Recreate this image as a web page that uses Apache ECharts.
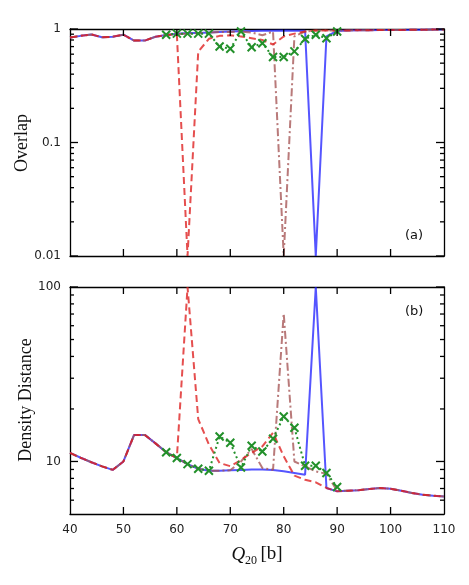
<!DOCTYPE html>
<html>
<head>
<meta charset="utf-8">
<script src="https://cdn.jsdelivr.net/npm/echarts@6/dist/echarts.min.js"></script>
<style>
html, body { margin: 0; padding: 0; background: #fff; }
#main { width: 469px; height: 585px; }
</style>
</head>
<body>
<div id="main"></div>
<script type="text/javascript">
// Q20 grid (b)
var q = [40, 42, 44, 46, 48, 50, 52, 54, 56, 58, 60, 62, 64, 66, 68, 70, 72, 74,
         76, 78, 80, 82, 84, 86, 88, 90, 92, 94, 96, 98, 100, 102, 104, 106, 108, 110];
var qGreen = [58, 60, 62, 64, 66, 68, 70, 72, 74, 76, 78, 80, 82, 84, 86, 88, 90];

// (a) overlap
var ovBlue  = [0.84, 0.87, 0.895, 0.845, 0.855, 0.89, 0.79, 0.79, 0.855, 0.885, 0.91, 0.92, 0.92, 0.93, 0.94, 0.95, 0.955, 0.96,
               0.965, 0.965, 0.97, 0.965, 0.965, 0.01, 0.86, 0.96, 0.97, 0.975, 0.975, 0.98, 0.98, 0.98, 0.985, 0.985, 0.99, 0.99];
var ovRed   = [0.84, 0.87, 0.895, 0.845, 0.855, 0.89, 0.79, 0.79, 0.855, 0.885, 0.9, 0.01, 0.63, 0.82, 0.87, 0.88, 0.86, 0.83,
               0.8, 0.73, 0.86, 0.91, 0.95, 0.97, 0.97, 0.97, 0.97, 0.975, 0.975, 0.98, 0.98, 0.98, 0.985, 0.985, 0.99, 0.99];
var ovBrown = [0.84, 0.87, 0.895, 0.845, 0.855, 0.89, 0.79, 0.79, 0.855, 0.885, 0.9, 0.91, 0.92, 0.93, 0.94, 0.94, 0.95, 0.93,
               0.88, 0.95, 0.01, 0.86, 0.95, 0.97, 0.97, 0.97, 0.97, 0.975, 0.975, 0.98, 0.98, 0.98, 0.985, 0.985, 0.99, 0.99];
var ovGreen = [0.89, 0.91, 0.91, 0.91, 0.91, 0.7, 0.67, 0.95, 0.69, 0.75, 0.567, 0.567, 0.635, 0.816, 0.89, 0.83, 0.95];

// (b) density distance
var ddBlue  = [11.2, 10.5, 9.9, 9.37, 8.95, 10.0, 14.2, 14.2, 12.7, 11.3, 10.46, 9.66, 9.08, 8.85, 8.85, 8.9, 8.95, 9.0,
               9.0, 8.95, 8.8, 8.6, 8.4, 100, 7.05, 6.74, 6.8, 6.85, 6.95, 7.05, 6.98, 6.8, 6.6, 6.45, 6.37, 6.3];
var ddRed   = [11.2, 10.5, 9.9, 9.37, 8.95, 10.0, 14.2, 14.2, 12.7, 11.3, 10.5, 100, 17.5, 12.5, 9.8, 9.4, 10.2, 11.2,
               12.2, 14.6, 10.7, 8.3, 7.86, 7.6, 7.05, 6.74, 6.8, 6.85, 6.95, 7.05, 6.98, 6.8, 6.6, 6.45, 6.37, 6.3];
var ddBrown = [11.2, 10.5, 9.9, 9.37, 8.95, 10.0, 14.2, 14.2, 12.7, 11.3, 10.46, 9.66, 9.08, 8.85, 8.85, 8.9, 10.0, 11.8,
               9.17, 8.96, 70.5, 10.0, 9.37, 8.77, 8.5, 6.8, 6.8, 6.85, 6.95, 7.05, 6.98, 6.8, 6.6, 6.45, 6.37, 6.3];
var ddGreen = [11.3, 10.46, 9.66, 9.08, 8.85, 13.9, 12.8, 9.24, 12.3, 11.4, 13.5, 18.1, 15.6, 9.45, 9.45, 8.59, 7.14];

// tick values
var xTickVals = [50, 60, 70, 80, 90, 100];
var ovMajor = [0.01, 0.1, 1];
var ovMinor = [0.02, 0.03, 0.04, 0.05, 0.06, 0.07, 0.08, 0.09, 0.2, 0.3, 0.4, 0.5, 0.6, 0.7, 0.8, 0.9];
var ddMajor = [10, 100];
var ddMinor = [6, 7, 8, 9, 20, 30, 40, 50, 60, 70, 80, 90];

function pairs(xs, ys) {
	var out = [];
	for (var i = 0; i < xs.length; i++) out.push([xs[i], ys[i]]);
	return out;
}
function atX(x, ys) { return ys.map(function (y) { return [x, y]; }); }
function atY(xs, y) { return xs.map(function (x) { return [x, y]; }); }

var axisColor = '#000';
var tickFont = { color: '#222', fontSize: 12, fontFamily: 'DejaVu Sans' };

// frame-only x axis
function xFrame(grid, pos) {
	return {
		type: 'value', gridIndex: grid, position: pos, min: 40, max: 110, interval: 10,
		axisLine: { show: true, onZero: false, lineStyle: { color: axisColor, width: 1.3 } },
		axisTick: { show: false },
		axisLabel: { show: false, fontSize: 9 },
		splitLine: { show: false }
	};
}

function xLabels(grid) {
	return {
		type: 'value', gridIndex: grid, position: 'bottom', min: 40, max: 110, interval: 10,
		axisLine: { show: true, onZero: false, lineStyle: { color: axisColor, width: 1.3 } },
		axisTick: { show: false },
		axisLabel: { show: true, margin: 10, color: tickFont.color, fontSize: tickFont.fontSize, fontFamily: tickFont.fontFamily },
		splitLine: { show: false }
	};
}

function yFrame(grid, pos, min, max) {
	return {
		type: 'log', logBase: 10, gridIndex: grid, position: pos, min: min, max: max,
		axisLine: { show: true, lineStyle: { color: axisColor, width: 1.3 } },
		axisTick: { show: false },
		axisLabel: { show: false, fontSize: 9 },
		splitLine: { show: false }
	};
}

function yLabels(grid, min, max, vals) {
	return {
		type: 'log', logBase: 10, gridIndex: grid, position: 'left', min: min, max: max,
		axisLine: { show: true, lineStyle: { color: axisColor, width: 1.3 } },
		axisTick: { show: false },
		axisLabel: { show: true, margin: 9, customValues: vals, color: tickFont.color, fontSize: tickFont.fontSize, fontFamily: tickFont.fontFamily },
		splitLine: { show: false }
	};
}

// inward tick marks placed through the axes' own scales
function tickSeries(xi, yi, data, dx, dy) {
	return {
		type: 'custom', coordinateSystem: 'cartesian2d', xAxisIndex: xi, yAxisIndex: yi,
		data: data, silent: true, z: 6, clip: false,
		renderItem: function (params, api) {
			var p = api.coord([api.value(0), api.value(1)]);
			return {
				type: 'line',
				shape: { x1: p[0], y1: p[1], x2: p[0] + dx, y2: p[1] + dy },
				style: { stroke: axisColor, lineWidth: 1.3 }
			};
		}
	};
}

var chart = echarts.init(document.getElementById('main'));

var blueStyle  = { color: 'rgba(20,20,255,0.72)', width: 2 };
var redStyle   = { color: 'rgba(222,30,30,0.78)', width: 2, type: [7, 4] };
var brownStyle = { color: 'rgba(165,85,85,0.78)', width: 2, type: [8, 3, 2, 3] };
var greenStyle = { color: '#22902a', width: 2, type: [2, 3] };

function line(name, xi, yi, data, style, z) {
	return {
		name: name, type: 'line', xAxisIndex: xi, yAxisIndex: yi, data: data,
		symbol: 'none', lineStyle: style, itemStyle: { color: style.color }, z: z
	};
}

function crosses(xi, yi, data) {
	return {
		type: 'line', xAxisIndex: xi, yAxisIndex: yi, data: data, z: 5,
		symbol: 'path://M0,0L10,10M10,0L0,10', symbolSize: 8, showSymbol: true,
		lineStyle: greenStyle,
		itemStyle: { color: '#22902a', borderColor: '#22902a', borderWidth: 2 }
	};
}

var option = {
	animation: false,
	backgroundColor: '#fff',
	grid: [
		{ left: 70, right: 25, top: 29, height: 227 },
		{ left: 70, right: 25, top: 287, height: 227 }
	],
	xAxis: [
		xFrame(0, 'bottom'),   // 0
		xFrame(0, 'top'),      // 1
		xLabels(1),            // 2
		xFrame(1, 'top')       // 3
	],
	yAxis: [
		yLabels(0, 0.01, 1, ovMajor),      // 0
		yFrame(0, 'right', 0.01, 1),       // 1
		yLabels(1, 5, 100, ddMajor),       // 2
		yFrame(1, 'right', 5, 100)         // 3
	],
	graphic: [
		{ type: 'text', left: 405, top: 229, style: { text: '(a)', fontFamily: 'DejaVu Sans', fontSize: 13, fill: '#111' } },
		{ type: 'text', left: 405, top: 305, style: { text: '(b)', fontFamily: 'DejaVu Sans', fontSize: 13, fill: '#111' } },
		{ type: 'text', x: 22, y: 143, rotation: Math.PI / 2,
		  style: { text: 'Overlap', fontFamily: 'Liberation Serif', fontSize: 18, fill: '#111', align: 'center', verticalAlign: 'middle' } },
		{ type: 'text', x: 26, y: 400, rotation: Math.PI / 2,
		  style: { text: 'Density Distance', fontFamily: 'Liberation Serif', fontSize: 18, fill: '#111', align: 'center', verticalAlign: 'middle' } },
		{ type: 'text', x: 257, y: 553,
		  style: {
			text: '{q|Q}{s|20} {b|[b]}', align: 'center', verticalAlign: 'middle',
			rich: {
				q: { fontFamily: 'Liberation Serif', fontStyle: 'italic', fontSize: 19, fill: '#111', lineHeight: 22, verticalAlign: 'bottom' },
				s: { fontFamily: 'Liberation Serif', fontSize: 12, fill: '#111', lineHeight: 22, verticalAlign: 'bottom', padding: [0, 0, -3, 0] },
				b: { fontFamily: 'Liberation Serif', fontSize: 19, fill: '#111', lineHeight: 22, verticalAlign: 'bottom' }
			}
		  } }
	],
	series: [
		line('blue', 0, 0, pairs(q, ovBlue), blueStyle, 2),
		line('brown', 0, 0, pairs(q, ovBrown), brownStyle, 3),
		line('red', 0, 0, pairs(q, ovRed), redStyle, 4),
		crosses(0, 0, pairs(qGreen, ovGreen)),
		line('blue', 2, 2, pairs(q, ddBlue), blueStyle, 2),
		line('brown', 2, 2, pairs(q, ddBrown), brownStyle, 3),
		line('red', 2, 2, pairs(q, ddRed), redStyle, 4),
		crosses(2, 2, pairs(qGreen, ddGreen)),

		// panel (a) ticks
		tickSeries(0, 0, atY(xTickVals, 0.01), 0, -7),
		tickSeries(0, 0, atY(xTickVals, 1), 0, 7),
		tickSeries(0, 0, atX(40, ovMajor), 8, 0),
		tickSeries(0, 0, atX(40, ovMinor), 4, 0),
		tickSeries(0, 0, atX(110, ovMajor), -8, 0),
		tickSeries(0, 0, atX(110, ovMinor), -4, 0),
		// panel (b) ticks
		tickSeries(2, 2, atY(xTickVals, 5), 0, -7),
		tickSeries(2, 2, atY(xTickVals, 100), 0, 7),
		tickSeries(2, 2, atX(40, ddMajor), 8, 0),
		tickSeries(2, 2, atX(40, ddMinor), 4, 0),
		tickSeries(2, 2, atX(110, ddMajor), -8, 0),
		tickSeries(2, 2, atX(110, ddMinor), -4, 0)
	]
};

chart.setOption(option);
</script>
</body>
</html>
